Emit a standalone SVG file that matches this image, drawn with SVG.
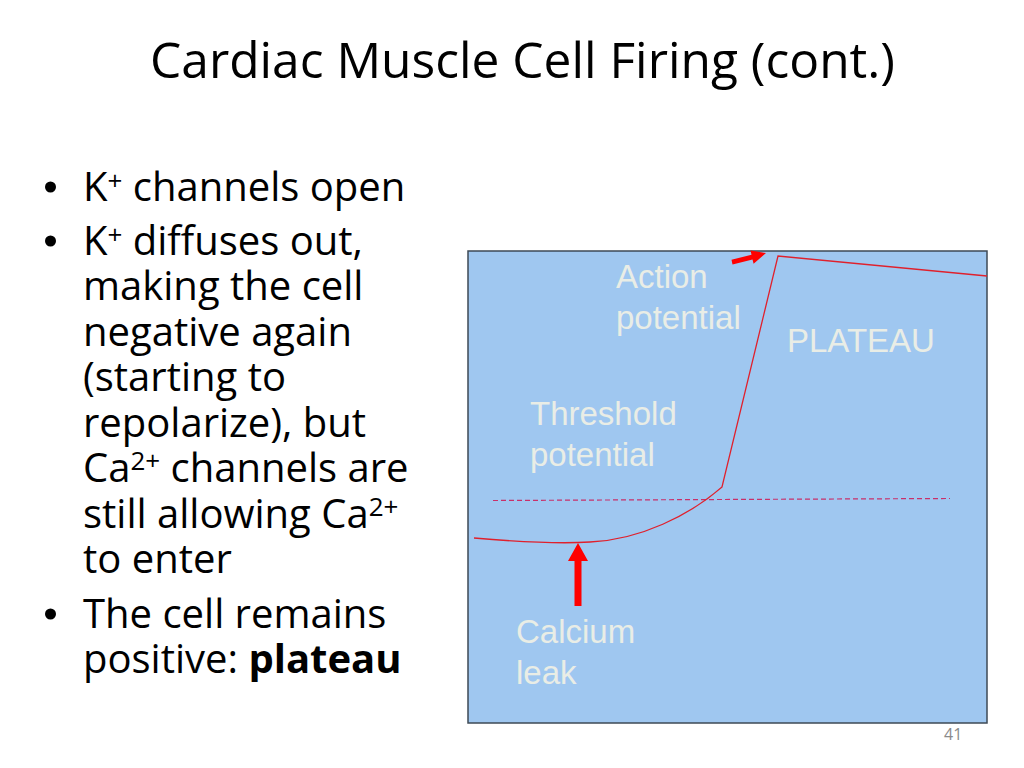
<svg xmlns="http://www.w3.org/2000/svg" width="1024" height="768" viewBox="0 0 1024 768">
  <style>
    .title { font-family: "Open Sans", "Liberation Sans", sans-serif; font-size: 49px; fill: #000; }
    .body { font-family: "Open Sans", "Liberation Sans", sans-serif; font-size: 40px; fill: #000; }
    .sup { font-size: 26px; }
    .lbl { font-family: "Liberation Sans", Arial, sans-serif; font-size: 33px; fill: #e9ede6; }
    .pg { font-family: "Open Sans", "Liberation Sans", sans-serif; font-size: 16px; fill: #8a8a8a; }
    .trace { fill: none; stroke: #e0202c; stroke-width: 1.3; }
    .thresh { fill: none; stroke: #c8306a; stroke-width: 1.2; stroke-dasharray: 5 3; }
    .redArrow { fill: #ff0000; }
  </style>
  <rect width="1024" height="768" fill="#ffffff"/>

  <g id="title">
    <text class="title" x="150" y="78" textLength="745" lengthAdjust="spacingAndGlyphs">Cardiac Muscle Cell Firing (cont.)</text>
  </g>

  <g id="bullets">
    <circle cx="50.5" cy="187" r="5.5" fill="#000"/>
    <circle cx="50.5" cy="241" r="5.5" fill="#000"/>
    <circle cx="50.5" cy="614" r="5.5" fill="#000"/>
    <text class="body" x="83" y="200.5">K<tspan class="sup" dy="-11">+</tspan><tspan dy="11"> channels open</tspan></text>
    <text class="body" x="83" y="254.5">K<tspan class="sup" dy="-11">+</tspan><tspan dy="11"> diffuses out,</tspan></text>
    <text class="body" x="83" y="300">making the cell</text>
    <text class="body" x="83" y="345.5">negative again</text>
    <text class="body" x="83" y="391">(starting to</text>
    <text class="body" x="83" y="436.5">repolarize), but</text>
    <text class="body" x="83" y="482">Ca<tspan class="sup" dy="-12">2+</tspan><tspan dy="12"> channels are</tspan></text>
    <text class="body" x="83" y="527.5">still allowing Ca<tspan class="sup" dy="-12">2+</tspan></text>
    <text class="body" x="83" y="573">to enter</text>
    <text class="body" x="83" y="628">The cell remains</text>
    <text class="body" x="83" y="673">positive: <tspan font-weight="bold">plateau</tspan></text>
  </g>

  <g id="chart">
    <rect x="468" y="251" width="519" height="472" fill="#9fc7f0" stroke="#3e4a56" stroke-width="1.5"/>
  </g>

  <g id="connectors">
    <line class="thresh" x1="493" y1="500.5" x2="950" y2="498.5"/>
    <path class="trace" d="M474,538 C520,542 560,544 590,542 C640,540 690,515 722,487 L778,256 L987,276"/>
    <polygon class="redArrow" points="732.5,264.5 752.5,259.6 753.6,263.8 766,253 750.5,250.6 751.5,254.8 731.5,259.7"/>
    <polygon class="redArrow" points="574.5,606 581.5,606 581.5,561 588,561 578,543 568,561 574.5,561"/>
  </g>

  <g id="label-action">
    <text class="lbl" x="616" y="288">Action</text>
    <text class="lbl" x="616" y="329">potential</text>
  </g>
  <g id="label-plateau">
    <text class="lbl" x="787" y="352">PLATEAU</text>
  </g>
  <g id="label-threshold">
    <text class="lbl" x="530" y="425">Threshold</text>
    <text class="lbl" x="530" y="466">potential</text>
  </g>
  <g id="label-calcium">
    <text class="lbl" x="516" y="643">Calcium</text>
    <text class="lbl" x="516" y="684">leak</text>
  </g>

  <g id="page-number">
    <text class="pg" x="944" y="740">41</text>
  </g>
</svg>
